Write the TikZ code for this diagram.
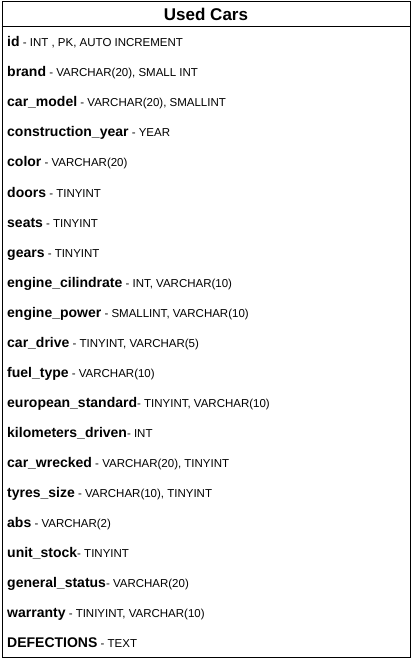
\documentclass[tikz,border=0pt]{standalone}
\usepackage{fontspec}
\setmainfont{Liberation Sans}
\usepackage{tikz}
\usetikzlibrary{positioning}

\newcommand{\colname}[1]{{\fontsize{14}{16}\selectfont\bfseries #1}}

\begin{document}
\begin{tikzpicture}[
    x=1pt, y=1pt,
    node distance=30pt,
    table/.style={draw, line width=1pt, minimum width=408pt, minimum height=655pt, inner sep=0pt, anchor=north west},
    title/.style={font=\fontsize{17}{19}\selectfont\bfseries, inner sep=0pt},
    field/.style={anchor=base west, inner sep=0pt, font=\fontsize{11.5}{13}\selectfont},
]
\useasboundingbox (0,0) rectangle (411,-660);

% Table frame
\node[table] (cars) at (1.5,-1.5) {};
\node[title, below=6pt of cars.north] (head) {Used Cars};
\draw[line width=1pt] ([yshift=-25pt]cars.north west) -- ([yshift=-25pt]cars.north east);

% Columns
\node[field] (id) at (7,-47) {\colname{id} - INT , PK, AUTO INCREMENT};
\node[below=of id.base west, field] (brand) {\colname{brand} - VARCHAR(20), SMALL INT};
\node[below=of brand.base west, field] (model) {\colname{car\_model} - VARCHAR(20), SMALLINT};
\node[below=of model.base west, field] (year) {\colname{construction\_year} - YEAR};
\node[below=of year.base west, field] (color) {\colname{color} - VARCHAR(20)};
\node[below=of color.base west, field] (doors) {\colname{doors} - TINYINT};
\node[below=of doors.base west, field] (seats) {\colname{seats} - TINYINT};
\node[below=of seats.base west, field] (gears) {\colname{gears} - TINYINT};
\node[below=of gears.base west, field] (cilindrate) {\colname{engine\_cilindrate} - INT, VARCHAR(10)};
\node[below=of cilindrate.base west, field] (power) {\colname{engine\_power} - SMALLINT, VARCHAR(10)};
\node[below=of power.base west, field] (drive) {\colname{car\_drive} - TINYINT, VARCHAR(5)};
\node[below=of drive.base west, field] (fuel) {\colname{fuel\_type} - VARCHAR(10)};
\node[below=of fuel.base west, field] (euro) {\colname{european\_standard}- TINYINT, VARCHAR(10)};
\node[below=of euro.base west, field] (km) {\colname{kilometers\_driven}- INT};
\node[below=of km.base west, field] (wrecked) {\colname{car\_wrecked} - VARCHAR(20), TINYINT};
\node[below=of wrecked.base west, field] (tyres) {\colname{tyres\_size} - VARCHAR(10), TINYINT};
\node[below=of tyres.base west, field] (abs) {\colname{abs} - VARCHAR(2)};
\node[below=of abs.base west, field] (stock) {\colname{unit\_stock}- TINYINT};
\node[below=of stock.base west, field] (status) {\colname{general\_status}- VARCHAR(20)};
\node[below=of status.base west, field] (warranty) {\colname{warranty} - TINIYINT, VARCHAR(10)};
\node[below=of warranty.base west, field] (defections) {\colname{DEFECTIONS} - TEXT};

\end{tikzpicture}
\end{document}
